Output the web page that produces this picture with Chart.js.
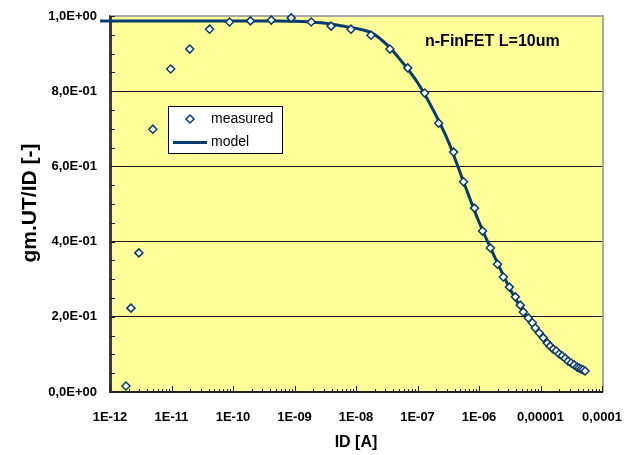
<!DOCTYPE html>
<html>
<head>
<meta charset="utf-8">
<script src="https://cdn.jsdelivr.net/npm/chart.js@4.4.1/dist/chart.umd.min.js"></script>
<style>
  html, body { margin: 0; padding: 0; background: #fff; }
  #wrap { width: 628px; height: 455px; }
</style>
</head>
<body>
<div id="wrap"><canvas id="gmChart" width="628" height="455"></canvas></div>
<script>
// measured points
const idMeasured = [1.82e-12, 2.19e-12, 2.95e-12, 4.97e-12, 9.7e-12, 1.98e-11, 4.16e-11, 8.77e-11,
  1.92e-10, 4.20e-10, 8.85e-10, 1.87e-9, 3.94e-9, 8.30e-9, 1.75e-8, 3.56e-8, 6.95e-8,
  1.31e-7, 2.21e-7, 3.86e-7, 5.61e-7, 8.45e-7, 1.14e-6, 1.53e-6, 2.00e-6, 2.49e-6, 3.12e-6,
  3.90e-6, 4.70e-6, 5.26e-6, 6.34e-6, 7.36e-6, 8.22e-6, 9.55e-6, 1.11e-5, 1.29e-5, 1.44e-5,
  1.61e-5, 1.80e-5, 2.01e-5, 2.25e-5, 2.52e-5, 2.81e-5, 3.15e-5, 3.52e-5, 3.94e-5, 4.25e-5,
  4.57e-5, 4.92e-5, 5.31e-5];
const gmMeasured = [0.016, 0.223, 0.370, 0.699, 0.859, 0.912, 0.965, 0.984,
  0.987, 0.989, 0.995, 0.984, 0.973, 0.965, 0.949, 0.912, 0.862,
  0.795, 0.715, 0.638, 0.559, 0.489, 0.428, 0.383, 0.340, 0.306, 0.279,
  0.253, 0.231, 0.213, 0.197, 0.184, 0.170, 0.157, 0.144, 0.130, 0.122,
  0.114, 0.109, 0.101, 0.096, 0.090, 0.082, 0.077, 0.072, 0.066, 0.064,
  0.061, 0.059, 0.056];

// model curve
const idModel = [6.9e-13, 1e-12, 1e-11, 1e-10, 5.6e-10, 1e-9, 1.8e-9, 3.2e-9, 5.6e-9, 1e-8,
  1.8e-8, 3.2e-8, 5.6e-8, 1e-7, 1.8e-7, 3.2e-7, 5.6e-7, 1e-6, 1.8e-6, 3.2e-6, 5.6e-6,
  1e-5, 1.8e-5, 3.2e-5, 5.3e-5];
const gmModel = [0.987, 0.987, 0.987, 0.987, 0.987, 0.986, 0.984, 0.981, 0.974, 0.967,
  0.955, 0.923, 0.878, 0.823, 0.750, 0.665, 0.559, 0.452, 0.359, 0.274, 0.207,
  0.154, 0.109, 0.077, 0.056];

const seriesNames = ['measured', 'model'];
const xTickValues = [1e-12, 1e-11, 1e-10, 1e-9, 1e-8, 1e-7, 1e-6, 1e-5, 1e-4];
const xTickLabels = ['1E-12', '1E-11', '1E-10', '1E-09', '1E-08', '1E-07', '1E-06', '0,00001', '0,0001'];
const yTickValues = [0, 0.2, 0.4, 0.6, 0.8, 1.0];
const yTickLabels = ['0,0E+00', '2,0E-01', '4,0E-01', '6,0E-01', '8,0E-01', '1,0E+00'];

const FONT = "'Liberation Sans', Arial, sans-serif";
const NAVY = '#0b3a6e';
const CLEAR = 'rgba(0,0,0,0)';

// background, borders, minor ticks, titles and legend box
const decor = {
  id: 'decor',
  beforeDraw(chart) {
    const { ctx, chartArea: a } = chart;
    ctx.save();
    ctx.fillStyle = '#FFFF99';
    ctx.fillRect(a.left, a.top, a.right - a.left, a.bottom - a.top);
    ctx.restore();
  },
  beforeDatasetsDraw(chart) {
    const { ctx, chartArea: a, scales } = chart;
    ctx.save();
    // grey frame top / right
    ctx.strokeStyle = '#a6a6a6';
    ctx.lineWidth = 2;
    ctx.beginPath();
    ctx.moveTo(a.left, a.top);
    ctx.lineTo(a.right + 1, a.top);
    ctx.lineTo(a.right + 1, a.bottom);
    ctx.stroke();

    // y minor ticks every 0.05
    ctx.strokeStyle = '#222';
    ctx.lineWidth = 1;
    for (let k = 0; k <= 20; k++) {
      const y = Math.round(scales.y.getPixelForValue(k * 0.05)) + 0.5;
      ctx.beginPath();
      ctx.moveTo(a.left, y);
      ctx.lineTo(a.left + 5, y);
      ctx.stroke();
    }
    // x minor ticks 1..9 per decade
    for (let e = -12; e <= -4; e++) {
      for (let m = 1; m <= 9; m++) {
        const v = m * Math.pow(10, e);
        if (v > 1.0001e-4) break;
        const x = Math.round(scales.x.getPixelForValue(v)) + 0.5;
        ctx.beginPath();
        ctx.moveTo(x, a.bottom);
        ctx.lineTo(x, a.bottom - (m === 1 ? 6 : 3));
        ctx.stroke();
      }
    }
    ctx.restore();
  },
  afterDraw(chart) {
    const { ctx, chartArea: a } = chart;
    const ds = chart.data.datasets;
    ctx.save();
    ctx.fillStyle = '#000';

    // axis titles
    ctx.font = 'bold 16px ' + FONT;
    ctx.textAlign = 'center';
    ctx.textBaseline = 'middle';
    ctx.fillText('ID [A]', (a.left + a.right) / 2, 443);
    ctx.save();
    ctx.translate(30, 203);
    ctx.rotate(-Math.PI / 2);
    ctx.font = 'bold 21px ' + FONT;
    ctx.fillText('gm.UT/ID [-]', 0, 0);
    ctx.restore();

    // annotation
    ctx.font = 'bold 16px ' + FONT;
    ctx.textAlign = 'left';
    ctx.fillText('n-FinFET L=10um', 425, 42);

    // legend box
    ctx.fillStyle = '#fff';
    ctx.fillRect(168, 106, 114, 47);
    ctx.strokeStyle = '#000';
    ctx.lineWidth = 1;
    ctx.strokeRect(168.5, 106.5, 114, 47);

    ctx.fillStyle = '#fff';
    ctx.strokeStyle = ds[0].borderColor;
    ctx.lineWidth = 1.5;
    ctx.beginPath();
    ctx.moveTo(190, 115); ctx.lineTo(194, 119); ctx.lineTo(190, 123); ctx.lineTo(186, 119);
    ctx.closePath();
    ctx.fill();
    ctx.stroke();

    ctx.strokeStyle = ds[1].borderColor;
    ctx.lineWidth = 3;
    ctx.beginPath();
    ctx.moveTo(173, 142.5);
    ctx.lineTo(207, 142.5);
    ctx.stroke();

    ctx.fillStyle = '#000';
    ctx.font = '14px ' + FONT;
    ctx.textBaseline = 'middle';
    ctx.fillText(ds[0].label, 211, 119);
    ctx.fillText(ds[1].label, 211, 142);
    ctx.restore();
  }
};

new Chart(document.getElementById('gmChart'), {
  type: 'scatter',
  data: {
    datasets: [{
      label: seriesNames[0],
      data: idMeasured.map((x, i) => ({ x: x, y: gmMeasured[i] })),
      pointStyle: 'rectRot',
      pointRadius: 4,
      pointBorderWidth: 1.5,
      borderColor: NAVY,
      backgroundColor: '#fff',
      showLine: false,
      order: 0,
      clip: 8
    }, {
      label: seriesNames[1],
      data: idModel.map((x, i) => ({ x: x, y: gmModel[i] })),
      showLine: true,
      borderColor: NAVY,
      borderWidth: 3,
      pointRadius: 0,
      cubicInterpolationMode: 'monotone',
      order: 1,
      clip: { left: 12, top: 6, right: 6, bottom: 6 }
    }]
  },
  options: {
    responsive: false,
    animation: false,
    devicePixelRatio: 1,
    layout: { padding: { left: 0, right: 26, top: 16, bottom: 0 } },
    plugins: {
      legend: { display: false },
      tooltip: { enabled: false }
    },
    scales: {
      x: {
        type: 'logarithmic',
        min: 1e-12,
        max: 1e-4,
        afterBuildTicks: (scale) => { scale.ticks = xTickValues.map(v => ({ value: v })); },
        afterFit: (scale) => { scale.height = 63; },
        ticks: {
          autoSkip: false,
          maxRotation: 0,
          padding: 2,
          color: '#000',
          font: { family: FONT, size: 13, weight: 'bold' },
          callback: (v, i) => xTickLabels[i]
        },
        grid: { display: true, drawOnChartArea: false, drawTicks: true, tickLength: 16, tickColor: CLEAR, color: CLEAR },
        border: { display: true, color: '#222', width: 2 }
      },
      y: {
        min: 0,
        max: 1,
        afterBuildTicks: (scale) => { scale.ticks = yTickValues.map(v => ({ value: v })); },
        afterFit: (scale) => { scale.width = 110; },
        ticks: {
          padding: 2,
          color: '#000',
          font: { family: FONT, size: 13, weight: 'bold' },
          callback: (v, i) => yTickLabels[i]
        },
        grid: {
          drawTicks: true,
          tickLength: 11,
          tickColor: CLEAR,
          color: (c) => (c.tick && (c.tick.value === 1 || c.tick.value === 0)) ? CLEAR : '#1a1a1a',
          lineWidth: 1
        },
        border: { display: true, color: '#3a3a3a', width: 3 }
      }
    }
  },
  plugins: [decor]
});
</script>
</body>
</html>
